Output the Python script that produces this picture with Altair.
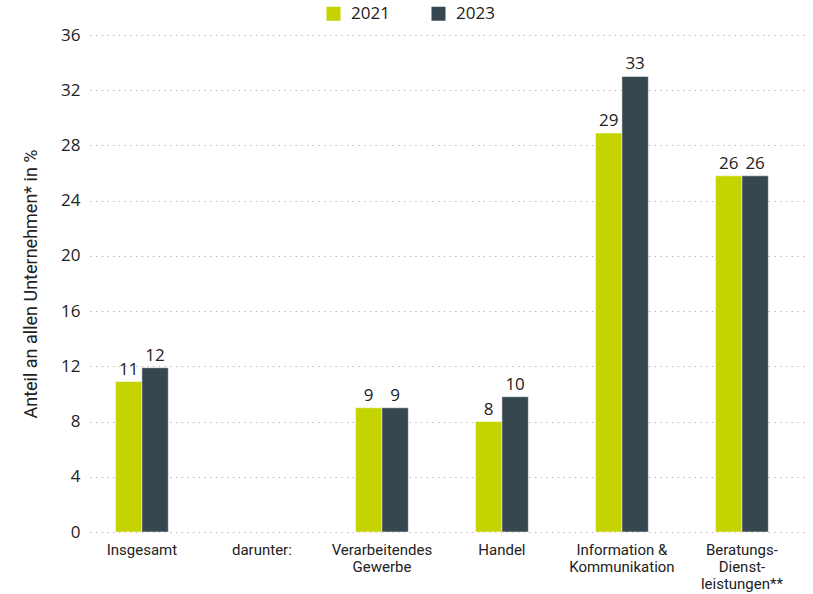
import altair as alt
import pandas as pd

categories = ["Insgesamt", "darunter:", "Verarbeitendes|Gewerbe", "Handel",
              "Information &|Kommunikation", "Beratungs-|Dienst-|leistungen**"]
years = ["2021", "2023"]
values_2021 = [10.9, None, 9.0, 8.0, 28.9, 25.8]
values_2023 = [11.9, None, 9.0, 9.8, 33.0, 25.8]
colors = ["#c5d300", "#37474f"]

rows = []
for c, a, b in zip(categories, values_2021, values_2023):
    for y, v in zip(years, [a, b]):
        if v is not None:
            rows.append({"cat": c, "year": y, "value": v, "label": str(round(v))})
df = pd.DataFrame(rows)

font = "Open Sans"
lab = "Roboto"

x = alt.X("cat:N", sort=categories,
          scale=alt.Scale(domain=categories, paddingInner=0.56, paddingOuter=0.259, align=0.41),
          axis=alt.Axis(title=None, labelAngle=0, labelExpr="split(datum.label, '|')",
                        labelFontSize=15, labelColor="#222", labelPadding=10, labelLineHeight=17,
                        domain=False, ticks=False, labelFont=lab))
y = alt.Y("value:Q", scale=alt.Scale(domain=[0, 36], nice=False),
          axis=alt.Axis(title="Anteil an allen Unternehmen* in %", values=list(range(0, 37, 4)),
                        labelFontSize=17, labelColor="#222", labelPadding=10,
                        titleFontSize=18, titleFontWeight="normal", titleColor="#222", titlePadding=20,
                        domain=False, ticks=False, grid=True, gridDash=[1.2, 4.5], gridColor="#aaa",
                        gridWidth=1.2, labelFont=font, titleFont=lab))

base = alt.Chart(df).encode(x=x, xOffset=alt.XOffset("year:N", sort=years))

bars = base.mark_bar(stroke="white", strokeWidth=0.5).encode(
    y=y,
    color=alt.Color("year:N", scale=alt.Scale(domain=years, range=colors),
                    legend=alt.Legend(title=None, orient="none", direction="horizontal",
                                      legendX=235, legendY=-30, symbolType="square",
                                      symbolSize=196, symbolStrokeWidth=0, labelFontSize=17,
                                      labelFont=font, labelColor="#222", columnPadding=40,
                                      labelOffset=9)),
)
text = base.mark_text(baseline="bottom", dy=-3, fontSize=17, font=font, color="#222").encode(
    y="value:Q", text="label:N")

chart = (bars + text).properties(
    width=715, height=497,
    autosize=alt.AutoSizeParams(type="none"),
    padding={"left": 90, "top": 35, "right": 8, "bottom": 62},
).configure_view(stroke=None)

chart.save("out.html", embed_options={"renderer": "svg", "actions": False})
